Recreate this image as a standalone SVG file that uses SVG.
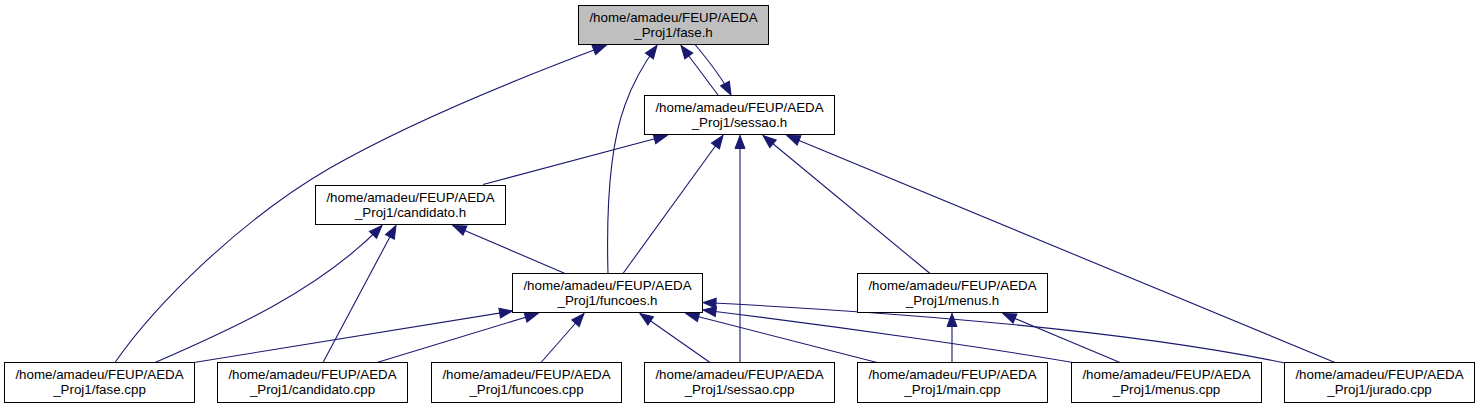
<svg xmlns="http://www.w3.org/2000/svg" width="1480" height="409" viewBox="0 0 1480 409">
<style>
.n rect{fill:#ffffff;stroke:#000000;stroke-width:1}
.n.root rect{fill:#bfbfbf}
.n text{font-family:"Liberation Sans",Arial,Helvetica,sans-serif;font-size:13.33px;fill:#000000;text-anchor:middle}
.e path{fill:none;stroke:#191970;stroke-width:1.1;marker-end:url(#ah)}
</style>
<defs>
<marker id="ah" markerUnits="userSpaceOnUse" markerWidth="15" markerHeight="12" refX="13" refY="5" orient="auto" overflow="visible">
<path d="M0,0 L13,5 L0,10 z" fill="#191970" stroke="#191970" stroke-width="1"/>
</marker>
</defs>
<rect width="1480" height="409" fill="#ffffff"/>
<g id="edges" class="e">
<path d="M115,362.5 C155,305 240,220 330,168 C410,122 530,74 606,45.5"/>
<path d="M608,273.5 C606,200 612,140 625,105 C632,85 645,62 657,45.5"/>
<path d="M718,95 L681,45.5"/>
<path d="M695,44.5 C708,60 722,78 731,95"/>
<path d="M483,184.5 L667,135.5"/>
<path d="M623,273.5 L723,135.5"/>
<path d="M740,362.5 L740,135.5"/>
<path d="M930,273.5 L763,135.5"/>
<path d="M1335,362.5 L787,135.5"/>
<path d="M155,362.5 C230,330 320,290 382,225.5"/>
<path d="M323,362.5 L396,225.5"/>
<path d="M565,273.5 L453,225.5"/>
<path d="M194,362.5 L512.5,311"/>
<path d="M377,362.5 L538,313.5"/>
<path d="M541,362.5 L584,313.5"/>
<path d="M710,362.5 L640,313.5"/>
<path d="M877,362.5 L686,313.5"/>
<path d="M1073,362.5 C1000,350 850,328 703,310"/>
<path d="M1285,363 C1150,335 950,315 703,302.5"/>
<path d="M952,362.5 L952,313.5"/>
<path d="M1120,362.5 L1003,313.5"/>
</g>
<g id="fase_h" class="n root"><rect x="578.5" y="5.5" width="190" height="39"/><text x="673.5" y="21.5">/home/amadeu/FEUP/AEDA</text><text x="673.5" y="36.5">_Proj1/fase.h</text></g>
<g id="sessao_h" class="n"><rect x="644.5" y="95.5" width="190" height="39"/><text x="739.5" y="111.5">/home/amadeu/FEUP/AEDA</text><text x="739.5" y="126.5">_Proj1/sessao.h</text></g>
<g id="candidato_h" class="n"><rect x="315.5" y="185.5" width="190" height="39"/><text x="410.5" y="201.5">/home/amadeu/FEUP/AEDA</text><text x="410.5" y="216.5">_Proj1/candidato.h</text></g>
<g id="funcoes_h" class="n"><rect x="512.5" y="273.5" width="190" height="39"/><text x="607.5" y="289.5">/home/amadeu/FEUP/AEDA</text><text x="607.5" y="304.5">_Proj1/funcoes.h</text></g>
<g id="menus_h" class="n"><rect x="857.5" y="273.5" width="190" height="39"/><text x="952.5" y="289.5">/home/amadeu/FEUP/AEDA</text><text x="952.5" y="304.5">_Proj1/menus.h</text></g>
<g id="fase_cpp" class="n"><rect x="4.5" y="362.5" width="190" height="40"/><text x="99.5" y="379">/home/amadeu/FEUP/AEDA</text><text x="99.5" y="394">_Proj1/fase.cpp</text></g>
<g id="candidato_cpp" class="n"><rect x="217.5" y="362.5" width="190" height="40"/><text x="312.5" y="379">/home/amadeu/FEUP/AEDA</text><text x="312.5" y="394">_Proj1/candidato.cpp</text></g>
<g id="funcoes_cpp" class="n"><rect x="431.5" y="362.5" width="190" height="40"/><text x="526.5" y="379">/home/amadeu/FEUP/AEDA</text><text x="526.5" y="394">_Proj1/funcoes.cpp</text></g>
<g id="sessao_cpp" class="n"><rect x="644.5" y="362.5" width="190" height="40"/><text x="739.5" y="379">/home/amadeu/FEUP/AEDA</text><text x="739.5" y="394">_Proj1/sessao.cpp</text></g>
<g id="main_cpp" class="n"><rect x="857.5" y="362.5" width="190" height="40"/><text x="952.5" y="379">/home/amadeu/FEUP/AEDA</text><text x="952.5" y="394">_Proj1/main.cpp</text></g>
<g id="menus_cpp" class="n"><rect x="1071.5" y="362.5" width="190" height="40"/><text x="1166.5" y="379">/home/amadeu/FEUP/AEDA</text><text x="1166.5" y="394">_Proj1/menus.cpp</text></g>
<g id="jurado_cpp" class="n"><rect x="1284.5" y="362.5" width="190" height="40"/><text x="1379.5" y="379">/home/amadeu/FEUP/AEDA</text><text x="1379.5" y="394">_Proj1/jurado.cpp</text></g>
</svg>
